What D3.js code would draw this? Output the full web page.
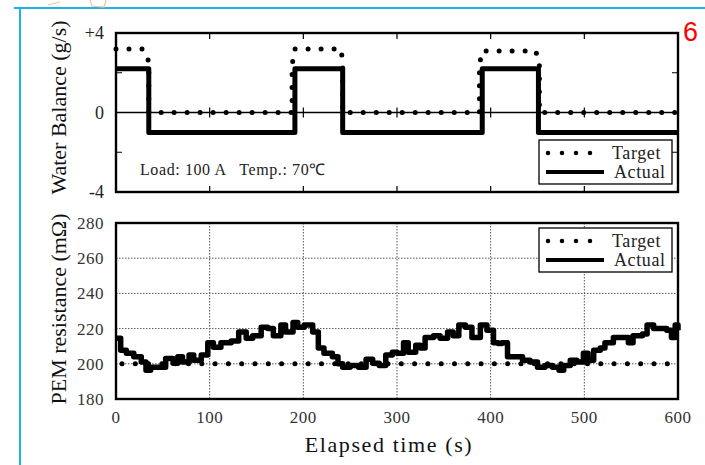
<!DOCTYPE html>
<meta charset="utf-8">
<style>
body { margin: 0; background: #fff; }
svg { font-family: "Liberation Serif", "Times New Roman", serif; }
.frame { fill: none; stroke: #000; stroke-width: 2.4; }
.tick-lab { fill: #333; font-size: 17px; letter-spacing: 0.5px; }
.grid { stroke: #555; stroke-width: 1; stroke-dasharray: 1.5 1.5; }
.actual { fill: none; stroke: #000; stroke-width: 5; stroke-linejoin: round; }
.target { fill: none; stroke: #000; stroke-width: 5; stroke-dasharray: 0 13; stroke-linecap: round; }
</style>
<body>
<svg width="705" height="465"></svg>
<script src="https://d3js.org/d3.v7.min.js"></script>
<script>

// water balance (g/s)
var wbTime   = [0, 35, 191, 242, 391, 451, 600];
var wbActual = [2.2, -1, 2.2, -1, 2.2, -1, -1];
var wbTargetT = [0, 28, 34, 35, 35, 188, 188, 191, 240, 242, 242, 388, 388, 391, 448, 452, 452, 600];
var wbTargetV = [3.2, 3.2, 2.8, 2.2, 0, 0, 2.4, 3.2, 3.2, 2.6, 0, 0, 2.4, 3.1, 3.1, 2.5, 0, 0];

// PEM resistance (mOhm)
var pemTime = [0, 5, 11, 19, 27, 32, 37, 46, 53, 61, 66, 71, 78, 83, 91, 98, 104, 112, 123, 131,
  139, 146, 155, 162, 168, 176, 181, 189, 194, 201, 210, 216, 222, 231, 237, 242, 250, 259, 267,
  274, 281, 288, 295, 300, 307, 312, 320, 325, 330, 339, 346, 354, 360, 366, 373, 380, 389, 396,
  403, 408, 412, 418, 426, 434, 442, 450, 458, 466, 473, 478, 485, 492, 499, 504, 510, 517, 522,
  531, 540, 547, 552, 562, 567, 574, 583, 588, 593, 597, 600];
var pemActual = [214.5, 207.7, 206, 204, 201, 196.4, 198, 198, 203, 200.3, 204, 201, 205, 202, 205,
  212, 209.4, 212, 213, 218, 214.5, 216, 220.7, 220, 216, 222, 218, 223.5, 220.7, 222, 218, 209,
  206, 204, 200, 198, 199, 198, 202.6, 200.3, 199, 205, 206.5, 206, 212, 206.5, 210.5, 209, 215,
  216, 214.5, 218, 216, 222, 220.7, 215, 222, 219, 212, 211.6, 212, 204, 204, 202, 201, 198, 199,
  198, 196.4, 199, 202, 201, 206, 202, 207.7, 209, 212, 215, 215, 212, 216, 217, 222, 220, 220,
  219, 215, 222, 219];
var pemTarget = 200;

var xTicks = [0, 100, 200, 300, 400, 500, 600];
var wbTicks = [4, 0, -4];
var wbTickLabels = ["+4", "0", "-4"];
var pemTicks = [180, 200, 220, 240, 260, 280];

var svg = d3.select("svg");

// page decorations
svg.append("path").attr("d", "M14,8H705M20,8V465").attr("fill", "none")
  .attr("stroke", "#1db3ea").attr("stroke-width", 2);
svg.append("path").attr("d", "M48,5 L60,2 M90,0 L92,6 L104,7 L106,0")
  .attr("fill", "none").attr("stroke", "#f6c29c").attr("stroke-width", 1.2);
svg.append("text").attr("x", 683).attr("y", 41).attr("fill", "#f00")
  .style("font-family", "Liberation Sans, Arial, sans-serif").style("font-size", "27px").text("6");

var x = d3.scaleLinear().domain([0, 600]).range([116, 678]);
var y1 = d3.scaleLinear().domain([-4, 4]).range([192, 33]);
var y2 = d3.scaleLinear().domain([180, 280]).range([399, 223]);

// ---------- top panel ----------
var topG = svg.append("g");
topG.append("line").attr("x1", x(0)).attr("x2", x(600)).attr("y1", y1(0)).attr("y2", y1(0))
  .attr("stroke", "#000").attr("stroke-width", 1.3);

topG.selectAll(".xt").data(xTicks.slice(1, -1)).enter().append("path")
  .attr("d", function(d) {
    return "M" + x(d) + "," + y1(4) + "v6M" + x(d) + "," + y1(-4) + "v-6M" + x(d) + "," + (y1(0) - 5) + "v10";
  }).attr("stroke", "#000").attr("stroke-width", 1.2);
topG.selectAll(".yt").data([2, -2]).enter().append("path")
  .attr("d", function(d) {
    return "M" + x(0) + "," + y1(d) + "h6M" + x(600) + "," + y1(d) + "h-6";
  }).attr("stroke", "#000").attr("stroke-width", 1.2);

topG.append("path").attr("class", "target")
  .attr("d", d3.line().x(function(d, i) { return x(d); }).y(function(d, i) { return y1(wbTargetV[i]); })(wbTargetT));
topG.append("path").attr("class", "actual")
  .attr("d", d3.line().curve(d3.curveStepAfter)
    .x(function(d) { return x(d); }).y(function(d, i) { return y1(wbActual[i]); })(wbTime));

topG.append("rect").attr("class", "frame").attr("x", x(0)).attr("y", y1(4))
  .attr("width", x(600) - x(0)).attr("height", y1(-4) - y1(4));

topG.selectAll(".yl").data(wbTicks).enter().append("text")
  .attr("x", 104).attr("y", function(d) { return y1(d) + 6; })
  .attr("text-anchor", "end").style("font-size", "18px").attr("fill", "#222")
  .text(function(d, i) { return wbTickLabels[i]; });

topG.append("text").attr("x", 140).attr("y", 175).style("font-size", "16px")
  .style("letter-spacing", "0.6px").attr("fill", "#222")
  .attr("xml:space", "preserve").text("Load: 100 A   Temp.: 70\u2103");

topG.append("text").attr("transform", "translate(66," + (y1(0) - 5) + ") rotate(-90)")
  .attr("text-anchor", "middle").style("font-size", "22px").attr("fill", "#111")
  .text("Water Balance (g/s)");

// ---------- bottom panel ----------
var botG = svg.append("g");
botG.selectAll(".gx").data(xTicks.slice(1, -1)).enter().append("line").attr("class", "grid")
  .attr("x1", x).attr("x2", x).attr("y1", y2(280)).attr("y2", y2(180));
botG.selectAll(".gy").data(pemTicks.slice(1, -1)).enter().append("line").attr("class", "grid")
  .attr("x1", x(0)).attr("x2", x(600)).attr("y1", y2).attr("y2", y2);

botG.append("line").attr("class", "target")
  .attr("x1", x(0) + 6).attr("x2", x(600)).attr("y1", y2(pemTarget)).attr("y2", y2(pemTarget))
  .style("stroke-dasharray", "0 13.3");
botG.append("path").attr("class", "actual").style("stroke-width", 5.5)
  .attr("d", d3.line().curve(d3.curveStepAfter)
    .x(function(d) { return x(d); }).y(function(d, i) { return y2(pemActual[i]); })(pemTime));

botG.append("rect").attr("class", "frame").attr("x", x(0)).attr("y", y2(280))
  .attr("width", x(600) - x(0)).attr("height", y2(180) - y2(280));

botG.selectAll(".yl").data(pemTicks).enter().append("text").attr("class", "tick-lab")
  .attr("x", 104).attr("y", function(d) { return y2(d) + 6; })
  .attr("text-anchor", "end").text(function(d) { return d; });
botG.selectAll(".xl").data(xTicks).enter().append("text").attr("class", "tick-lab")
  .attr("x", x).attr("y", 423).attr("text-anchor", "middle").text(function(d) { return d; });

botG.append("text").attr("transform", "translate(66," + ((y2(180) + y2(280)) / 2 - 2) + ") rotate(-90)")
  .attr("text-anchor", "middle").style("font-size", "22px").attr("fill", "#111")
  .text("PEM resistance (m\u03a9)");

svg.append("text").attr("x", 389).attr("y", 452).attr("text-anchor", "middle")
  .style("font-size", "22px").style("letter-spacing", "1.6px").attr("fill", "#111")
  .text("Elapsed time (s)");

// ---------- legends ----------
function legend(y0) {
  var g = svg.append("g");
  g.append("rect").attr("x", 539).attr("y", y0).attr("width", 133).attr("height", 44)
    .attr("fill", "#fff").attr("stroke", "#000").attr("stroke-width", 1.3);
  g.append("line").attr("class", "target").attr("x1", 548).attr("x2", 604)
    .attr("y1", y0 + 13).attr("y2", y0 + 13).style("stroke-dasharray", "0 14").style("stroke-width", 4.5);
  g.append("line").attr("x1", 546).attr("x2", 604).attr("y1", y0 + 32).attr("y2", y0 + 32)
    .attr("stroke", "#000").attr("stroke-width", 4);
  g.append("text").attr("x", 612).attr("y", y0 + 19).style("font-size", "18px")
    .style("letter-spacing", "0.6px").attr("fill", "#222").text("Target");
  g.append("text").attr("x", 614).attr("y", y0 + 38).style("font-size", "18px")
    .style("letter-spacing", "0.6px").attr("fill", "#222").text("Actual");
}
legend(140);
legend(228);

</script>
</body>
